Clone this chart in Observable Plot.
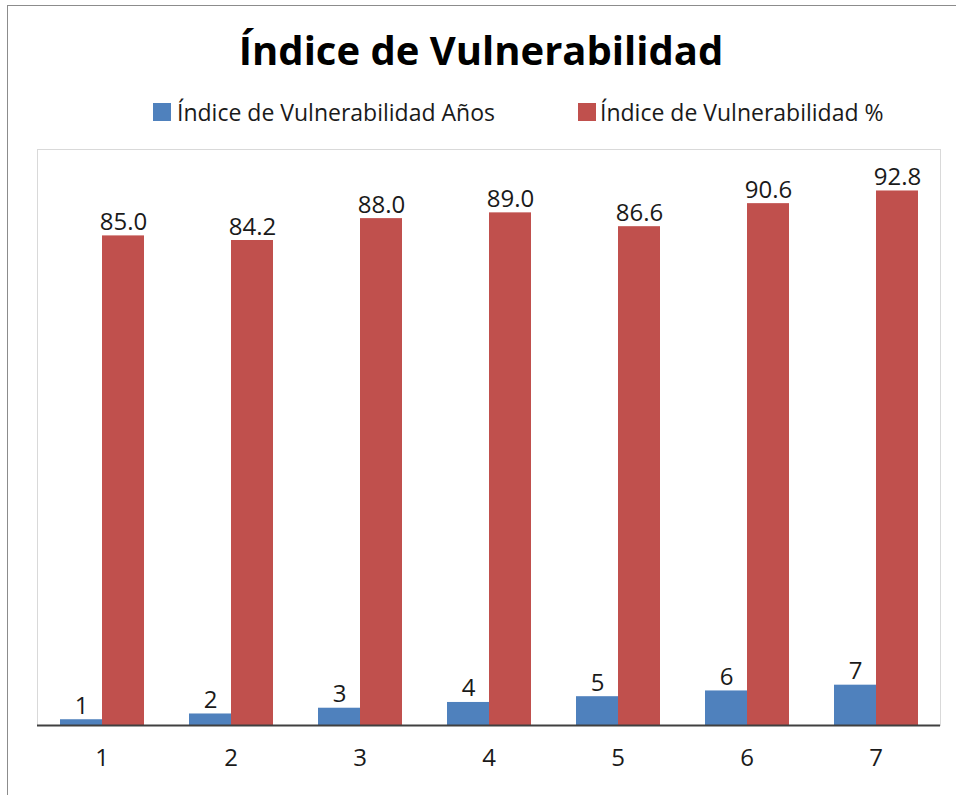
<!DOCTYPE html>
<html><head><meta charset="utf-8">
<script src="https://cdn.jsdelivr.net/npm/d3@7"></script>
<script src="https://cdn.jsdelivr.net/npm/@observablehq/plot@0.6"></script>
<style>
body{margin:0;background:#fff;overflow:hidden;width:956px;height:795px;position:relative}
#border{position:absolute;left:7px;top:5px;width:1200px;height:1200px;border:1px solid #8c8c8c;box-sizing:border-box;pointer-events:none}
#header{position:relative;height:140px}
#title{position:absolute;top:20px;left:0;width:962px;text-align:center;font:bold 40px "Open Sans",sans-serif;color:#000;line-height:60px}
.sw{position:absolute;width:18px;height:18px;top:103px}
.lt{position:absolute;top:98px;font:23px "Open Sans",sans-serif;color:#1a1a1a;line-height:28px;white-space:nowrap}
#chart{position:relative}
</style></head>
<body>
<div id="border"></div>
<div id="header">
  <div id="title">Índice de Vulnerabilidad</div>
</div>
<div id="chart"></div>
<script>
const categories = ["1","2","3","4","5","6","7"];
const series = ["Índice de Vulnerabilidad Años","Índice de Vulnerabilidad %"];
const anos = [1,2,3,4,5,6,7];
const pct = [85.0,84.2,88.0,89.0,86.6,90.6,92.8];
const colors = ["#4f81bd","#c0504d"];

const header = document.getElementById("header");
const legendPos = [[153,177],[578,600]];
series.forEach((s,i)=>{
  const sw = document.createElement("div");
  sw.className="sw"; sw.style.left=legendPos[i][0]+"px"; sw.style.background=colors[i];
  header.appendChild(sw);
  const t = document.createElement("div");
  t.className="lt"; t.style.left=legendPos[i][1]+"px"; t.textContent=s;
  header.appendChild(t);
});

const data = [];
categories.forEach((c,i)=>{
  data.push({cat:c, serie:series[0], value:anos[i], label:String(anos[i])});
  data.push({cat:c, serie:series[1], value:pct[i], label:pct[i].toFixed(1)});
});

const plot = Plot.plot({
  width:956, height:655,
  marginTop:9, marginBottom:70, marginLeft:34, marginRight:13,
  style:{fontFamily:"'Open Sans',sans-serif", background:"transparent"},
  fx:{domain:categories, padding:0, label:null},
  x:{domain:series, paddingInner:0, paddingOuter:0.507, axis:null},
  y:{domain:[0,100], axis:null},
  color:{domain:series, range:colors},
  marks:[
    Plot.frame({facet:"super", stroke:"#d9d9d9"}),
    Plot.barY(data,{fx:"cat", x:"serie", y:"value", fill:"serie"}),
    Plot.text(data,{fx:"cat", x:"serie", y:"value", text:"label", lineAnchor:"bottom", dy:-6, fontSize:24, fill:"#1a1a1a"}),
    Plot.ruleY([0],{stroke:"#404040", strokeWidth:2}),
    Plot.axisFx({anchor:"bottom", tickSize:0, tickPadding:23, fontSize:24, label:null, color:"#1a1a1a"})
  ]
});
document.getElementById("chart").appendChild(plot);
</script>
</body></html>
